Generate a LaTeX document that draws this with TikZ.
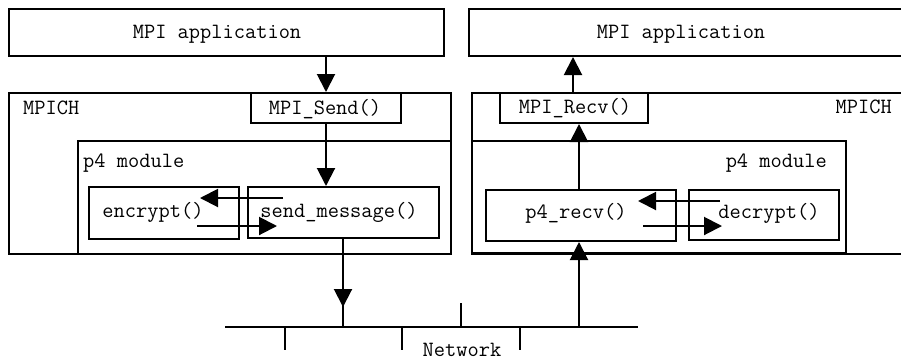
\documentclass[tikz,border=0pt]{standalone}
\usepackage{fontspec}
\usetikzlibrary{arrows.meta}
\tikzset{
  blk/.style={draw, line width=2pt, rectangle, inner sep=0pt, anchor=north west},
  lbl/.style={inner sep=0pt, anchor=base, font=\ttfamily\fontsize{21.8}{24}\selectfont},
  arr/.style={line width=2pt, -{Triangle[length=18pt,width=18pt]}},
  wire/.style={line width=2pt}
}
% box from corner (x1,y1) to (x2,y2); picture units are pixels, y runs downwards
\newcommand\blkbox[5]{%
  \node[blk, minimum width={(#4)-(#2)}, minimum height={(#5)-(#3)}] (#1) at (#2,#3) {};}
\begin{document}
\begin{tikzpicture}[x=1pt, y=-1pt]
  \useasboundingbox (0,0) rectangle (901,360);
  \clip (0,0) rectangle (901,360);

  % sender side
  \blkbox{appL}{8}{8}{443}{55}
  \blkbox{mpichL}{8}{92}{450}{253}
  \blkbox{sendL}{250}{92}{400}{122}
  \blkbox{p4L}{77}{140}{450}{253}
  \blkbox{enc}{88}{186}{238}{238}
  \blkbox{sm}{247}{186}{438}{237}

  % receiver side
  \blkbox{appR}{468}{8}{915}{55}
  \blkbox{mpichR}{471}{92}{915}{253}
  \blkbox{recvR}{499}{92}{647}{122}
  \blkbox{p4R}{471}{140}{845}{252}
  \blkbox{p4recv}{485}{189}{675}{240}
  \blkbox{dec}{688}{189}{838}{239}

  % labels
  \node[lbl] (tAppL) at (217,38) {MPI application};
  \node[lbl, anchor=base west] (tMpichL) at (23,114) {MPICH};
  \node[lbl] (tSend) at (325,114) {MPI\_Send()};
  \node[lbl, anchor=base west] (tP4L) at (83,167) {p4 module};
  \node[lbl] (tEnc) at (153,217) {encrypt()};
  \node[lbl] (tSm) at (339,217) {send\_message()};
  \node[lbl] (tAppR) at (681,38) {MPI application};
  \node[lbl] (tRecv) at (575,113) {MPI\_Recv()};
  \node[lbl, anchor=base east] (tMpichR) at (892,113) {MPICH};
  \node[lbl, anchor=base east] (tP4R) at (827,167) {p4 module};
  \node[lbl] (tP4recv) at (576,218) {p4\_recv()};
  \node[lbl] (tDec) at (769,218) {decrypt()};
  \node[lbl] (tNet) at (462,356) {Network};

  % network bus with taps
  \coordinate (busW) at (225,327);
  \coordinate (busE) at (638,327);
  \draw[wire] (busW) -- (busE);
  \foreach \x/\n in {285/t1, 402/t2, 520/t3} {
    \coordinate (\n) at (\x,327);
    \draw[wire] (\n) -- ++(0,23);
  }
  \coordinate (t4) at (461,327);
  \draw[wire] (t4) -- ++(0,-24);

  % sending path
  \draw[arr] (sendL.north |- appL.south) -- (sendL.north);
  \draw[arr] (sendL.south) -- (sendL.south |- sm.north);
  \coordinate (encIn1) at (283,198);
  \coordinate (encIn2) at (200,198);
  \draw[arr] (encIn1) -- (encIn2);
  \coordinate (encOut1) at (197,226);
  \coordinate (encOut2) at (277,226);
  \draw[arr] (encOut1) -- (encOut2);
  \coordinate (netL) at (343,327);
  \coordinate (dropL) at (343,307);
  \draw[wire] (sm.south -| netL) -- (netL);
  \draw[arr] (sm.south -| netL) -- (dropL);

  % receiving path
  \coordinate (netR) at (579,327);
  \draw[arr] (netR) -- (netR |- p4recv.south);
  \coordinate (upR) at (579,189);
  \draw[arr] (upR) -- (upR |- recvR.south);
  \coordinate (upApp) at (573,92);
  \draw[arr] (upApp) -- (upApp |- appR.south);
  \coordinate (decIn1) at (720,201);
  \coordinate (decIn2) at (638,201);
  \draw[arr] (decIn1) -- (decIn2);
  \coordinate (decOut1) at (643,226);
  \coordinate (decOut2) at (722,226);
  \draw[arr] (decOut1) -- (decOut2);
\end{tikzpicture}
\end{document}
